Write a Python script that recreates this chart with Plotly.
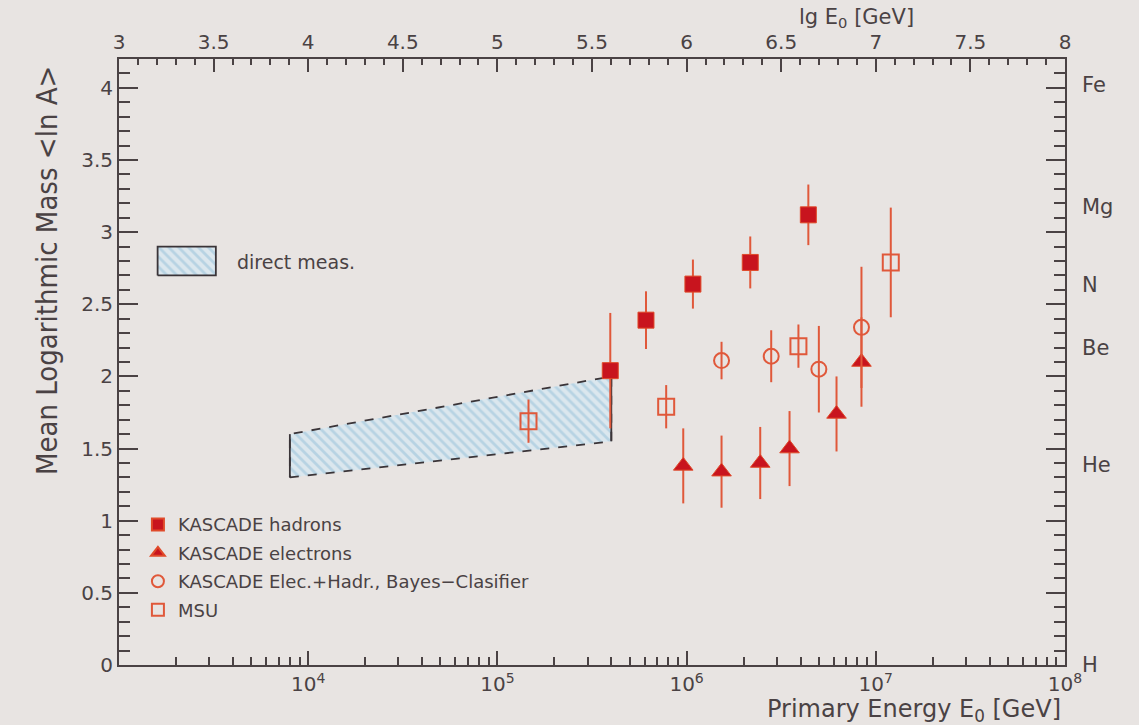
import numpy as np
import plotly.graph_objects as go

# ---------------- data ----------------
had_E   = [3.95e5, 6.1e5, 1.08e6, 2.17e6, 4.4e6]
had_lnA = [2.04, 2.39, 2.64, 2.79, 3.12]
had_err = [0.40, 0.20, 0.17, 0.18, 0.21]

ele_E   = [9.6e5, 1.53e6, 2.45e6, 3.5e6, 6.2e6, 8.4e6]
ele_lnA = [1.38, 1.34, 1.40, 1.50, 1.74, 2.10]
ele_err = [0.26, 0.25, 0.25, 0.26, 0.26, 0.31]

bay_E   = [1.53e6, 2.8e6, 5.0e6, 8.4e6]
bay_lnA = [2.11, 2.14, 2.05, 2.34]
bay_err = [0.13, 0.18, 0.30, 0.42]

msu_E   = [1.46e5, 7.8e5, 3.9e6, 1.2e7]
msu_lnA = [1.69, 1.79, 2.21, 2.79]
msu_err = [0.15, 0.15, 0.15, 0.38]

band_E    = [8e3, 4e5]
band_low  = [1.30, 1.55]
band_high = [1.60, 2.00]

elements = ["H", "He", "Be", "N", "Mg", "Fe"]
mass_A   = [1, 4, 9, 14, 24, 56]

# ---------------- styles ----------------
BG = "#e8e4e2"
INK = "#4a4244"
RED = "#c8141e"
ORANGE = "#e0583a"
FONT = "DejaVu Sans, Verdana, sans-serif"

fig = go.Figure()

# direct measurement band
bx = [band_E[0], band_E[1], band_E[1], band_E[0], band_E[0]]
by = [band_low[0], band_low[1], band_high[1], band_high[0], band_low[0]]
fig.add_trace(go.Scatter(
    x=bx, y=by, mode="lines", fill="toself",
    fillcolor="#dbe7ee",
    fillpattern=dict(shape="\\", bgcolor="#dbe7ee", fgcolor="#93bfd8", size=7, solidity=0.4),
    line=dict(color="#3a3438", width=1.8, dash="dash"),
    showlegend=False, hoverinfo="skip"))
fig.add_trace(go.Scatter(
    x=[band_E[0], band_E[0], None, band_E[1], band_E[1]],
    y=[band_low[0], band_high[0], None, band_low[1], band_high[1]],
    mode="lines", line=dict(color="#3a3438", width=1.8),
    showlegend=False, hoverinfo="skip"))

# key box for the band (decorative legend)
key_x = [1600, 3250]
key_y = [2.70, 2.90]
fig.add_trace(go.Scatter(
    x=[key_x[0], key_x[1], key_x[1], key_x[0], key_x[0]],
    y=[key_y[0], key_y[0], key_y[1], key_y[1], key_y[0]],
    mode="lines", fill="toself", fillcolor="#dbe7ee",
    fillpattern=dict(shape="\\", bgcolor="#dbe7ee", fgcolor="#93bfd8", size=7, solidity=0.4),
    line=dict(color="#3a3438", width=1.8),
    showlegend=False, hoverinfo="skip"))

err = lambda a: dict(type="data", array=a, visible=True, color=ORANGE, thickness=2, width=0)

fig.add_trace(go.Scatter(
    x=had_E, y=had_lnA, mode="markers", name="KASCADE hadrons",
    error_y=err(had_err), legendgroup="a",
    marker=dict(symbol="square", size=16, color=RED, line=dict(color="#e04a2a", width=1))))
fig.add_trace(go.Scatter(
    x=ele_E, y=ele_lnA, mode="markers", name="KASCADE electrons",
    error_y=err(ele_err), legendgroup="b",
    marker=dict(symbol="triangle-up", size=17, color=RED, line=dict(color="#e04a2a", width=1))))
fig.add_trace(go.Scatter(
    x=bay_E, y=bay_lnA, mode="markers", name="KASCADE Elec.+Hadr., Bayes\u2212Clasifier",
    error_y=err(bay_err), legendgroup="c",
    marker=dict(symbol="circle-open", size=15, color=ORANGE, line=dict(color=ORANGE, width=2))))
fig.add_trace(go.Scatter(
    x=msu_E, y=msu_lnA, mode="markers", name="MSU",
    error_y=err(msu_err), legendgroup="d",
    marker=dict(symbol="square-open", size=16, color=ORANGE, line=dict(color=ORANGE, width=2))))

# dummy trace to activate secondary axes
fig.add_trace(go.Scatter(x=[3, 8], y=[0, 0], xaxis="x2", yaxis="y2", mode="none",
                         showlegend=False, hoverinfo="skip"))

minor_vals = [k * 10 ** n for n in range(3, 8) for k in range(2, 10)]
decades = [1e4, 1e5, 1e6, 1e7, 1e8]

fig.update_layout(
    width=1139, height=725,
    margin=dict(l=119, r=74, t=59, b=60),
    paper_bgcolor=BG, plot_bgcolor=BG,
    font=dict(family=FONT, color=INK, size=20),
    xaxis=dict(type="log", range=[3, 8], showgrid=False, zeroline=False,
               showline=True, linecolor=INK, linewidth=2,
               ticks="inside", ticklen=14, tickwidth=1.8, tickcolor=INK,
               tickvals=decades,
               ticktext=["10<sup>%d</sup>" % int(np.log10(d)) for d in decades],
               tickfont=dict(size=20),
               minor=dict(ticks="inside", ticklen=8, tickwidth=1.5, tickcolor=INK,
                          tickvals=minor_vals, showgrid=False)),
    xaxis2=dict(overlaying="x", side="top", range=[3, 8], showgrid=False, zeroline=False,
                showline=True, linecolor=INK, linewidth=2,
                ticks="inside", ticklen=13, tickwidth=1.8, tickcolor=INK,
                tick0=3, dtick=0.5, tickfont=dict(size=20),
                minor=dict(ticks="inside", ticklen=6, tickwidth=1.5, tickcolor=INK,
                           dtick=0.1, showgrid=False)),
    yaxis=dict(range=[0, 4.2], showgrid=False, zeroline=False,
               showline=True, linecolor=INK, linewidth=2, mirror="ticks",
               ticks="inside", ticklen=19, tickwidth=1.8, tickcolor=INK,
               tick0=0, dtick=0.5, tickfont=dict(size=20),
               minor=dict(ticks="inside", ticklen=11, tickwidth=1.5, tickcolor=INK,
                          dtick=0.1, showgrid=False)),
    yaxis2=dict(overlaying="y", side="right", range=[0, 4.2], showgrid=False,
                zeroline=False, showline=False, ticks="",
                tickvals=list(np.log(mass_A)), ticktext=elements,
                ticklabelstandoff=16, tickfont=dict(size=21)),
    legend=dict(x=0.02, y=0.262, xanchor="left", yanchor="top",
                bgcolor="rgba(0,0,0,0)", font=dict(size=18, family=FONT, color=INK),
                tracegroupgap=2, itemsizing="constant"),
    annotations=[
        dict(text="Mean Logarithmic Mass &lt;ln A&gt;", xref="paper", yref="paper",
             x=-0.096, y=0.652, textangle=-90, showarrow=False,
             font=dict(family="DejaVu Sans Condensed, Liberation Sans Narrow, sans-serif", size=29, color=INK)),
        dict(text="Primary Energy E<sub>0</sub> [GeV]", xref="paper", yref="paper",
             x=0.998, y=(665 - 710) / 606, xanchor="right", yanchor="middle", showarrow=False,
             font=dict(size=24, color=INK)),
        dict(text="lg E<sub>0</sub> [GeV]", xref="paper", yref="paper",
             x=0.78, y=(665 - 18) / 606, xanchor="center", yanchor="middle", showarrow=False,
             font=dict(size=21, color=INK)),
        dict(text="direct meas.", xref="paper", yref="paper",
             x=(235 - 119) / 946, y=(665 - 262) / 606, xanchor="left", yanchor="middle",
             showarrow=False, font=dict(size=19, color=INK)),
    ],
)

fig.write_html("out.html")
